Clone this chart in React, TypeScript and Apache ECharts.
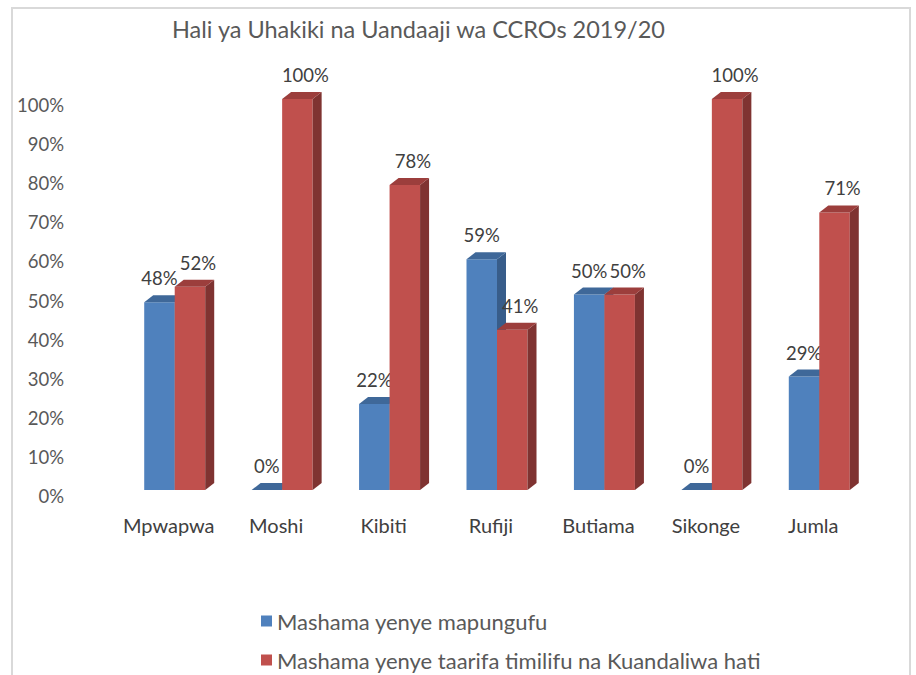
import React, { useEffect, useRef } from "react";
import * as echarts from "echarts";

const title = "Hali ya Uhakiki na Uandaaji wa CCROs 2019/20";
const categories = ["Mpwapwa", "Moshi", "Kibiti", "Rufiji", "Butiama", "Sikonge", "Jumla"];
const seriesNames = [
  "Mashama yenye mapungufu",
  "Mashama yenye taarifa timilifu na Kuandaliwa hati",
];
const mapungufu = [0.48, 0.0, 0.22, 0.59, 0.5, 0.0, 0.29];
const timilifu = [0.52, 1.0, 0.78, 0.41, 0.5, 1.0, 0.71];
const yTicks = [0, 0.1, 0.2, 0.3, 0.4, 0.5, 0.6, 0.7, 0.8, 0.9, 1.0];

const FONT = "Lato, 'Open Sans', sans-serif";
const palettes = [
  { front: "#4f81bd", top: "#3f6899", side: "#385d8a" },
  { front: "#c0504d", top: "#9c3e3c", side: "#7f3331" },
];

const SHIFT_X = 6;
const SHIFT_Y = -6;
const BAR_W = 30.5;
const DX = 9;
const DY = -7;

function makeRender(seriesIdx: number) {
  return (params: any, api: any) => {
    const ci = api.value(0);
    const v = api.value(1);
    const c = api.coord([ci, v]);
    const b = api.coord([ci, 0]);
    const cx = c[0] + SHIFT_X;
    const x0 = seriesIdx === 0 ? cx - BAR_W : cx;
    const x1 = x0 + BAR_W;
    const yTop = c[1] + SHIFT_Y;
    const yBase = b[1] + SHIFT_Y;
    const p = palettes[seriesIdx];
    const labelX = (x0 + x1) / 2 + (seriesIdx === 0 ? 0 : 8);
    return {
      type: "group",
      children: [
        {
          type: "rect",
          shape: { x: x0, y: yTop, width: BAR_W, height: yBase - yTop },
          style: { fill: p.front },
        },
        {
          type: "polygon",
          shape: {
            points: [
              [x1, yTop],
              [x1 + DX, yTop + DY],
              [x1 + DX, yBase + DY],
              [x1, yBase],
            ],
          },
          style: { fill: p.side },
        },
        {
          type: "polygon",
          shape: {
            points: [
              [x0, yTop],
              [x1, yTop],
              [x1 + DX, yTop + DY],
              [x0 + DX, yTop + DY],
            ],
          },
          style: { fill: p.top },
        },
        {
          type: "text",
          x: labelX,
          y: yTop - 24,
          style: {
            text: Math.round(v * 100) + "%",
            fill: "#404040",
            font: `18.5px ${FONT}`,
            align: "center",
            verticalAlign: "middle",
          },
        },
      ],
    };
  };
}

export default function App() {
  const ref = useRef<HTMLDivElement>(null);
  useEffect(() => {
    if (!ref.current) return;
    const chart = echarts.init(ref.current, undefined, { renderer: "svg" });
    chart.setOption({
      animation: false,
      backgroundColor: "#ffffff",
      title: {
        text: title,
        left: 172,
        top: 17,
        padding: 0,
        textStyle: { fontFamily: FONT, fontSize: 23.5, fontWeight: "normal", color: "#595959" },
      },
      legend: {
        orient: "vertical",
        left: 261,
        top: 609,
        padding: 0,
        itemGap: 15,
        itemWidth: 11,
        itemHeight: 11,
        icon: "rect",
        data: seriesNames,
        textStyle: { fontFamily: FONT, fontSize: 22, color: "#595959", lineHeight: 24 },
      },
      grid: { left: 115, right: 49, top: 105, bottom: 179 },
      xAxis: {
        type: "category",
        data: categories,
        axisLine: { show: false },
        axisTick: { show: false },
        axisLabel: { interval: 0, margin: 19, fontFamily: FONT, fontSize: 20, color: "#404040" },
      },
      yAxis: {
        type: "value",
        min: 0,
        max: 1,
        interval: 0.1,
        splitLine: { show: false },
        axisLine: { show: false },
        axisTick: { show: false },
        axisLabel: {
          margin: 51,
          fontFamily: FONT,
          fontSize: 18.5,
          color: "#595959",
          formatter: (val: number) => {
            const t = yTicks.find((x) => Math.abs(x - val) < 1e-6);
            return t === undefined ? "" : Math.round(t * 100) + "%";
          },
        },
      },
      graphic: [
        {
          type: "rect",
          shape: { x: 12, y: 8, width: 898, height: 700 },
          style: { fill: "none", stroke: "#d9d9d9", lineWidth: 2 },
          silent: true,
          z: -1,
        },
      ],
      series: [
        {
          name: seriesNames[0],
          type: "custom",
          clip: false,
          itemStyle: { color: palettes[0].front },
          data: mapungufu.map((v, i) => [i, v]),
          renderItem: makeRender(0),
        },
        {
          name: seriesNames[1],
          type: "custom",
          clip: false,
          itemStyle: { color: palettes[1].front },
          data: timilifu.map((v, i) => [i, v]),
          renderItem: makeRender(1),
        },
      ],
    });
    return () => chart.dispose();
  }, []);
  return (
    <div
      ref={ref}
      style={{ position: "fixed", left: 0, top: 0, width: 916, height: 675 }}
    />
  );
}
